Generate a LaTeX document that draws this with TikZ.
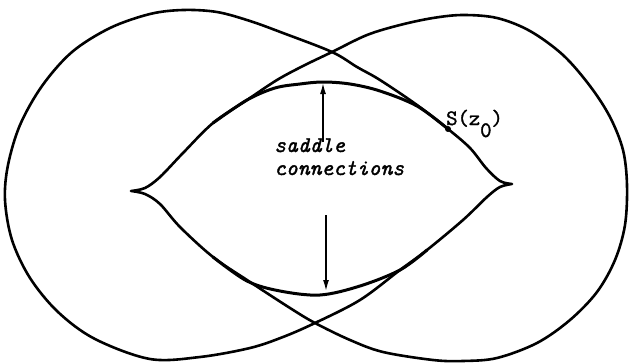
\documentclass[tikz,border=0pt]{standalone}
\usepackage{fontspec}
\setmonofont[FakeBold=1.5]{Latin Modern Mono}
\usetikzlibrary{arrows.meta}
\begin{document}
\begin{tikzpicture}[x=1pt,y=-1pt,
  curve/.style={line width=2.6pt,line join=round,line cap=round},
  arc/.style={line width=3pt,line cap=round},
  pointer/.style={line width=1.4pt,-{Latex[length=11pt,width=6pt]}},
  lbl/.style={font=\fontsize{22.5}{23}\selectfont\ttfamily\itshape,align=left,inner sep=0pt},
  slbl/.style={font=\fontsize{22}{22}\selectfont\ttfamily,inner sep=0pt}]
\useasboundingbox (0,0) rectangle (630,364);
% curve through the left cusp
\draw[curve] plot[smooth,tension=0.55] coordinates {
 (131,191) (145,188) (160,177) (183,153) (213,123) (247,100) (277,80) (303,66)
 (332,52) (367,35) (400,25) (433,18) (463,15) (497,18) (530,31) (563,55)
 (590,86) (610,117) (623,150) (627,185) (625,225) (615,260) (597,292) (570,320)
 (537,343) (497,358) (463,361) (433,360) (383,352) (350,340) (315,323) (290,308)
 (247,280) (213,257) (180,227) (160,204) (145,194) (131,191)};
% curve through the right cusp
\draw[curve] plot[smooth,tension=0.55] coordinates {
 (512,184) (500,181) (486,168) (470,148) (448,129) (417,105) (380,80) (357,67)
 (332,52) (283,33) (250,21) (217,12) (183,10) (150,14) (110,28) (72,52)
 (42,86) (20,125) (8,165) (5,200) (12,240) (30,278) (58,312) (95,339)
 (150,359) (200,357) (250,348) (283,337) (315,323) (360,300) (400,270) (427,250)
 (463,220) (487,197) (500,187) (512,184)};
% saddle connections
\draw[arc] plot[smooth,tension=0.55] coordinates {
 (213,123) (247,100) (275,88) (300,84) (323,82) (350,84) (380,91) (417,106) (448,129)};
\draw[arc] plot[smooth,tension=0.55] coordinates {
 (213,257) (247,281) (280,291) (320,295) (360,286) (400,270) (427,250)};
% point S(z0)
\fill (448,129) circle (3pt);
\node[slbl,anchor=base west] (sz) at (446,125) {S(z\raisebox{-12pt}{0})};
% label and arrows
\node[lbl,anchor=base west] (sad) at (274,175) {saddle\\connections};
\coordinate (utop) at (323,83);
\coordinate (ubot) at (323,142);
\coordinate (ltop) at (326,215);
\coordinate (lbot) at (326,291);
\draw[pointer] (ubot) -- (utop);
\draw[pointer] (ltop) -- (lbot);
\end{tikzpicture}
\end{document}
